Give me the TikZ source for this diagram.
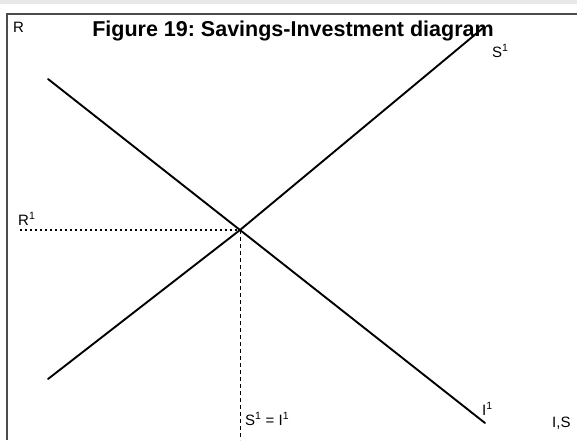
\documentclass[tikz,border=0pt]{standalone}
\usepackage{fontspec}
\setmainfont{Liberation Sans}
\frenchspacing
\begin{document}
\begin{tikzpicture}[x=1pt,y=-1pt,
  curve/.style={line width=1.9pt,line cap=round},
  lbl/.style={inner sep=0pt,anchor=base west,font=\fontsize{15}{15}\selectfont}]
\useasboundingbox (0,0) rectangle (577,440);
\fill[gray!18] (0,0) rectangle (577,4);
\draw[line width=2pt,gray!60!black] (7,440) -- (7,14) -- (577,14);
\node[inner sep=0pt,anchor=base,font=\bfseries\fontsize{21.5}{21.5}\selectfont] (title) at (293,36) {Figure 19: Savings-Investment diagram};
% axes labels
\node[lbl] (R) at (13,32) {R};
\node[lbl] (IS) at (552,427) {I,S};
% curves
\coordinate (E) at (240,230);
\coordinate (s0) at (48,379);
\coordinate (s1) at (483,28);
\coordinate (i0) at (48,79);
\coordinate (i1) at (485,423);
\draw[curve] (s0) -- (E) -- (s1);
\draw[curve] (i0) -- (E) -- (i1);
\node[lbl] (S1) at (492,57) {S\textsuperscript{1}};
\node[lbl] (I1) at (482,415) {I\textsuperscript{1}};
% equilibrium
\coordinate (r0) at (20,230);
\coordinate (q0) at (240,440);
\draw[line width=1.3pt,dash pattern=on 2pt off 3pt] (r0) -- (E);
\draw[line width=0.9pt,dash pattern=on 4pt off 3pt] (E) -- (q0);
\node[lbl] (R1) at (18,225) {R\textsuperscript{1}};
\node[lbl] (eq) at (245,425) {S\textsuperscript{1} = I\textsuperscript{1}};
\end{tikzpicture}
\end{document}
